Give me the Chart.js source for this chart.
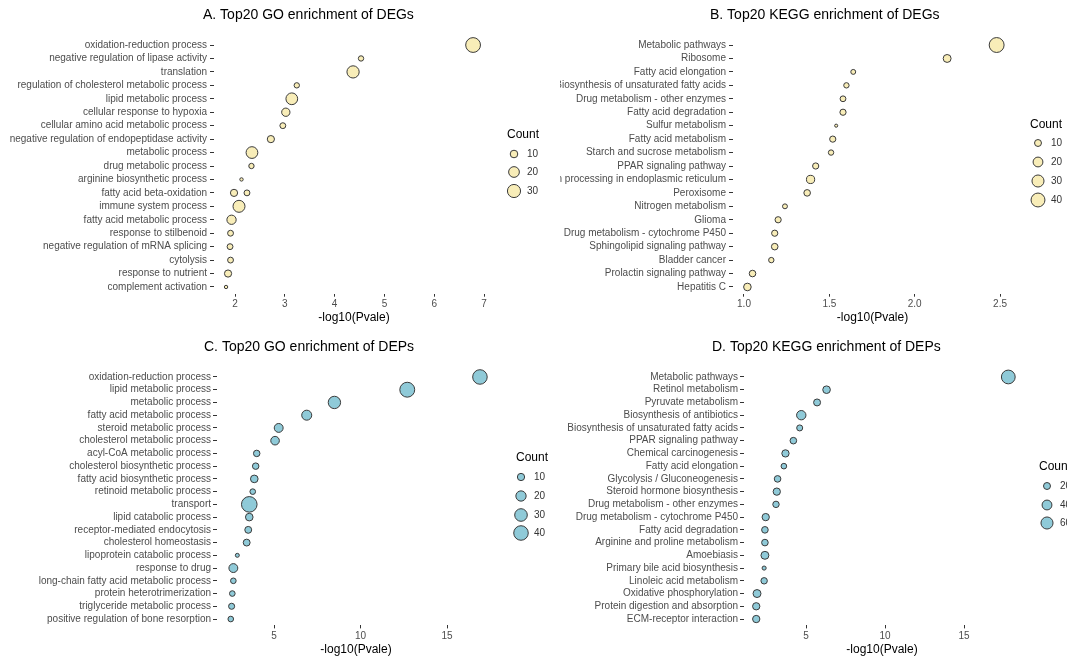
<!DOCTYPE html>
<html>
<head>
<meta charset="utf-8">
<script src="https://cdn.jsdelivr.net/npm/chart.js@4.4.0/dist/chart.umd.min.js"></script>
<style>
  html, body { margin: 0; padding: 0; background: #fff; }
  body { width: 1067px; height: 662px; position: relative; overflow: hidden; }
  .panel { position: absolute; }
</style>
</head>
<body>
<div class="panel" style="left:0;top:0;width:560px;height:331px"><canvas id="chart-a"></canvas></div>
<div class="panel" style="left:560px;top:0;width:507px;height:331px"><canvas id="chart-b"></canvas></div>
<div class="panel" style="left:0;top:331px;width:560px;height:331px"><canvas id="chart-c"></canvas></div>
<div class="panel" style="left:560px;top:331px;width:507px;height:331px"><canvas id="chart-d"></canvas></div>
<script>
// A. GO terms of DEGs (one term shows up twice)
const termsA = [
  'oxidation-reduction process', 'negative regulation of lipase activity', 'translation',
  'regulation of cholesterol metabolic process', 'lipid metabolic process', 'cellular response to hypoxia',
  'cellular amino acid metabolic process', 'negative regulation of endopeptidase activity', 'metabolic process',
  'drug metabolic process', 'arginine biosynthetic process', 'fatty acid beta-oxidation', 'fatty acid beta-oxidation',
  'immune system process', 'fatty acid metabolic process', 'response to stilbenoid',
  'negative regulation of mRNA splicing', 'cytolysis', 'response to nutrient', 'complement activation'
]
const pvalA = [6.78, 4.53, 4.37, 3.24, 3.14, 3.02, 2.96, 2.72, 2.34, 2.33, 2.13, 1.98, 2.24, 2.08, 1.93, 1.91, 1.90, 1.91, 1.86, 1.82]
const countA = [38, 5, 26, 5, 24, 12, 6, 9, 24, 5, 2, 9, 6, 25, 15, 6, 6, 6, 9, 2]
const xTicksA = [2, 3, 4, 5, 6, 7]
const breaksA = [10, 20, 30]

// B. KEGG pathways of DEGs
const termsB = [
  'Metabolic pathways', 'Ribosome', 'Fatty acid elongation', 'Biosynthesis of unsaturated fatty acids',
  'Drug metabolism - other enzymes', 'Fatty acid degradation', 'Sulfur metabolism', 'Fatty acid metabolism',
  'Starch and sucrose metabolism', 'PPAR signaling pathway', 'Protein processing in endoplasmic reticulum',
  'Peroxisome', 'Nitrogen metabolism', 'Glioma', 'Drug metabolism - cytochrome P450',
  'Sphingolipid signaling pathway', 'Bladder cancer', 'Prolactin signaling pathway', 'Hepatitis C'
]
const pvalB = [2.48, 2.19, 1.64, 1.60, 1.58, 1.58, 1.54, 1.52, 1.51, 1.42, 1.39, 1.37, 1.24, 1.20, 1.18, 1.18, 1.16, 1.05, 1.02]
const countB = [46, 13, 5, 6, 7, 8, 2, 8, 6, 8, 14, 9, 5, 8, 8, 9, 6, 9, 12]
const xTicksB = [1.0, 1.5, 2.0, 2.5]
const breaksB = [10, 20, 30, 40]

// C. GO terms of DEPs
const termsC = [
  'oxidation-reduction process', 'lipid metabolic process', 'metabolic process', 'fatty acid metabolic process',
  'steroid metabolic process', 'cholesterol metabolic process', 'acyl-CoA metabolic process',
  'cholesterol biosynthetic process', 'fatty acid biosynthetic process', 'retinoid metabolic process', 'transport',
  'lipid catabolic process', 'receptor-mediated endocytosis', 'cholesterol homeostasis',
  'lipoprotein catabolic process', 'response to drug', 'long-chain fatty acid metabolic process',
  'protein heterotrimerization', 'triglyceride metabolic process', 'positive regulation of bone resorption'
]
const pvalC = [16.9, 12.7, 8.49, 6.89, 5.27, 5.06, 4.0, 3.94, 3.86, 3.77, 3.57, 3.57, 3.51, 3.42, 2.88, 2.65, 2.65, 2.59, 2.55, 2.5]
const countC = [40, 42, 29, 19, 15, 14, 8, 8, 11, 6, 46, 11, 9, 9, 3, 15, 6, 6, 7, 6]
const xTicksC = [5, 10, 15]
const breaksC = [10, 20, 30, 40]

// D. KEGG pathways of DEPs
const termsD = [
  'Metabolic pathways', 'Retinol metabolism', 'Pyruvate metabolism', 'Biosynthesis of antibiotics',
  'Biosynthesis of unsaturated fatty acids', 'PPAR signaling pathway', 'Chemical carcinogenesis',
  'Fatty acid elongation', 'Glycolysis / Gluconeogenesis', 'Steroid hormone biosynthesis',
  'Drug metabolism - other enzymes', 'Drug metabolism - cytochrome P450', 'Fatty acid degradation',
  'Arginine and proline metabolism', 'Amoebiasis', 'Primary bile acid biosynthesis', 'Linoleic acid metabolism',
  'Oxidative phosphorylation', 'Protein digestion and absorption', 'ECM-receptor interaction'
]
const pvalD = [17.8, 6.3, 5.7, 4.7, 4.6, 4.2, 3.7, 3.6, 3.2, 3.15, 3.1, 2.45, 2.4, 2.4, 2.4, 2.35, 2.35, 1.9, 1.85, 1.85]
const countD = [78, 24, 20, 36, 15, 18, 22, 13, 18, 22, 17, 22, 18, 18, 26, 7, 17, 26, 22, 22]
const xTicksD = [5, 10, 15]
const breaksD = [20, 40, 60]

const FONT = '"Liberation Sans", Arial, sans-serif'
const YELLOW = '#f8edb8'
const BLUE = '#8fcad8'
const STROKE = '#3a3a3a'
Chart.defaults.font.family = FONT

// title + size legend, drawn on top of each panel
const decor = {
  id: 'decor',
  afterDraw(chart, args, o) {
    const ctx = chart.ctx
    ctx.save()
    ctx.textBaseline = 'middle'
    ctx.textAlign = 'left'
    ctx.fillStyle = '#000'
    ctx.font = '14px ' + FONT
    ctx.fillText(o.title, o.titleX, o.titleY)
    ctx.font = '12px ' + FONT
    ctx.fillText('Count', o.legX, o.legY)
    o.breaks.forEach((b, i) => {
      const y = o.keyY[i]
      ctx.beginPath()
      ctx.arc(o.keyX, y, o.k * Math.sqrt(b), 0, Math.PI * 2)
      ctx.fillStyle = o.fill
      ctx.fill()
      ctx.lineWidth = 1
      ctx.strokeStyle = STROKE
      ctx.stroke()
      ctx.fillStyle = '#333'
      ctx.font = '10px ' + FONT
      ctx.fillText(String(b), o.keyX + 13, y)
    })
    ctx.restore()
  }
}

function makePanel(id, p) {
  const labels = [...new Set(p.terms)]
  const points = p.terms.map((t, i) => ({ x: p.pval[i], y: t, r: p.k * Math.sqrt(p.count[i]) }))
  return new Chart(document.getElementById(id), {
    type: 'bubble',
    data: {
      datasets: [{
        data: points,
        backgroundColor: p.fill,
        borderColor: STROKE,
        borderWidth: 1,
        clip: false
      }]
    },
    options: {
      responsive: true,
      maintainAspectRatio: false,
      animation: false,
      events: [],
      layout: { padding: { top: p.top, bottom: p.bottom, left: 0, right: p.right } },
      plugins: {
        legend: { display: false },
        tooltip: { enabled: false },
        decor: {
          title: p.title, titleX: p.titleX, titleY: p.titleY,
          legX: p.legX, legY: p.legY, keyX: p.keyX, keyY: p.keyY,
          breaks: p.breaks, k: p.k, fill: p.fill
        }
      },
      scales: {
        x: {
          type: 'linear',
          min: p.min,
          max: p.max,
          afterBuildTicks: s => { s.ticks = p.ticks.map(v => ({ value: v })) },
          afterFit: s => { s.height = 31 },
          grid: { drawOnChartArea: false, tickLength: 3, color: '#333' },
          border: { display: false },
          ticks: {
            padding: 2,
            color: '#4d4d4d',
            font: { size: 10 },
            maxRotation: 0,
            callback: v => v.toFixed(p.dec)
          },
          title: { display: true, text: '-log10(Pvale)', color: '#000', font: { size: 12 }, padding: 0 }
        },
        y: {
          type: 'category',
          labels: labels,
          offset: true,
          afterFit: s => { s.width = p.left },
          grid: { drawOnChartArea: false, tickLength: 4, color: '#333' },
          border: { display: false },
          ticks: { autoSkip: false, padding: p.tickPad, color: '#4d4d4d', font: { size: 10 } }
        }
      }
    },
    plugins: [decor]
  })
}

makePanel('chart-a', {
  terms: termsA, pval: pvalA, count: countA, ticks: xTicksA, breaks: breaksA, dec: 0,
  k: 1.2, fill: YELLOW, min: 1.578, max: 7.2,
  top: 38.3, bottom: 6.3, left: 214, right: 66, tickPad: 3,
  title: 'A. Top20 GO enrichment of DEGs', titleX: 203, titleY: 15,
  legX: 507, legY: 135, keyX: 514, keyY: [154, 172, 191]
})
makePanel('chart-b', {
  terms: termsB, pval: pvalB, count: countB, ticks: xTicksB, breaks: breaksB, dec: 1,
  k: 1.1, fill: YELLOW, min: 0.9356, max: 2.57,
  top: 38.3, bottom: 6.3, left: 173, right: 55, tickPad: 3,
  title: 'B. Top20 KEGG enrichment of DEGs', titleX: 150, titleY: 15,
  legX: 470, legY: 125, keyX: 478, keyY: [143, 162, 181, 200]
})
makePanel('chart-c', {
  terms: termsC, pval: pvalC, count: countC, ticks: xTicksC, breaks: breaksC, dec: 0,
  k: 1.15, fill: BLUE, min: 1.705, max: 17.77,
  top: 39.6, bottom: 5.6, left: 217, right: 65, tickPad: 2,
  title: 'C. Top20 GO enrichment of DEPs', titleX: 204, titleY: 16,
  legX: 516, legY: 127, keyX: 521, keyY: [146, 165, 184, 202]
})
makePanel('chart-d', {
  terms: termsD, pval: pvalD, count: countD, ticks: xTicksD, breaks: breaksD, dec: 0,
  k: 0.78, fill: BLUE, min: 1.076, max: 18.54,
  top: 39.6, bottom: 5.6, left: 184, right: 47, tickPad: 2,
  title: 'D. Top20 KEGG enrichment of DEPs', titleX: 152, titleY: 16,
  legX: 479, legY: 136, keyX: 487, keyY: [155, 174, 192]
})
</script>
</body>
</html>
